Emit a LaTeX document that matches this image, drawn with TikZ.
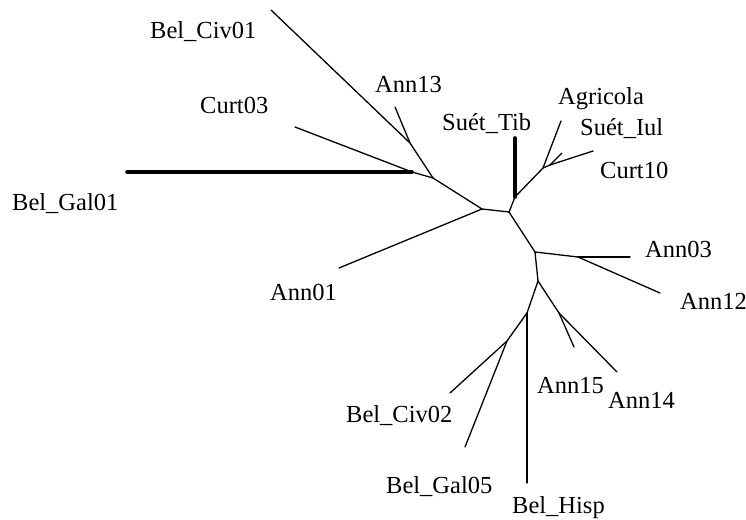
\documentclass[tikz,border=0pt]{standalone}
\usepackage{fontspec}
\setmainfont{Liberation Serif}
\begin{document}
\begin{tikzpicture}[x=1pt,y=-1pt,
  branch/.style={line width=1.3pt,line cap=round,line join=round},
  heavy/.style={line width=3.6pt},
  taxon/.style={anchor=base west,inner sep=0pt,font=\fontsize{24.5}{28}\selectfont}]
\useasboundingbox (0,0) rectangle (746,519);

% internal vertices
\coordinate (A) at (482,209);
\coordinate (B) at (509,212);
\coordinate (C) at (433,178);
\coordinate (D) at (412,172);
\coordinate (E) at (410,143);
\coordinate (F) at (515,197);
\coordinate (G) at (543,168);
\coordinate (G2) at (550,165);
\coordinate (H) at (535,252);
\coordinate (I) at (578,257);
\coordinate (J) at (538,281);
\coordinate (K) at (527,313);
\coordinate (L) at (559,313);
\coordinate (M) at (507,341);

% leaves
\coordinate (tBelCivA) at (271,10);
\coordinate (tAnnXIII) at (395,107);
\coordinate (tCurtIII) at (295,127);
\coordinate (tBelGalA) at (127,172);
\coordinate (tAnnI) at (339,268);
\coordinate (tSuetTib) at (515,138);
\coordinate (tAgricola) at (561,121);
\coordinate (tSuetIul) at (562,153);
\coordinate (tCurtX) at (593,151);
\coordinate (tAnnIII) at (630,257);
\coordinate (tAnnXII) at (660,293);
\coordinate (tAnnXV) at (574,347);
\coordinate (tAnnXIV) at (617,372);
\coordinate (tBelHisp) at (527,483);
\coordinate (tBelCivB) at (450,393);
\coordinate (tBelGalB) at (465,447);

% branches
\draw[branch] (A) -- (B);
\draw[branch] (A) -- (C);
\draw[branch] (A) -- (tAnnI);
\draw[branch] (C) -- (D);
\draw[branch] (C) -- (E);
\draw[branch] (E) -- (tBelCivA);
\draw[branch] (E) -- (tAnnXIII);
\draw[branch] (D) -- (tCurtIII);
\draw[branch,heavy] (D) -- (tBelGalA);
\draw[branch] (B) -- (F);
\draw[branch,heavy] (F) -- (tSuetTib);
\draw[branch] (F) -- (G);
\draw[branch] (G) -- (tAgricola);
\draw[branch] (G) -- (G2);
\draw[branch] (G2) -- (tSuetIul);
\draw[branch] (G2) -- (tCurtX);
\draw[branch] (B) -- (H);
\draw[branch] (H) -- (I);
\draw[branch] (I) -- (tAnnIII);
\draw[branch] (I) -- (tAnnXII);
\draw[branch] (H) -- (J);
\draw[branch] (J) -- (K);
\draw[branch] (J) -- (L);
\draw[branch] (L) -- (tAnnXV);
\draw[branch] (L) -- (tAnnXIV);
\draw[branch] (K) -- (tBelHisp);
\draw[branch] (K) -- (M);
\draw[branch] (M) -- (tBelCivB);
\draw[branch] (M) -- (tBelGalB);

% taxon labels
\node[taxon] (lBelCivA) at (150,39) {Bel\_Civ01};
\node[taxon] (lAnnXIII) at (375,92) {Ann13};
\node[taxon] (lCurtIII) at (200,113) {Curt03};
\node[taxon] (lBelGalA) at (12,210) {Bel\_Gal01};
\node[taxon] (lAnnI) at (270,300) {Ann01};
\node[taxon] (lSuetTib) at (442,130) {Suét\_Tib};
\node[taxon] (lAgricola) at (558,104) {Agricola};
\node[taxon] (lSuetIul) at (580,135) {Suét\_Iul};
\node[taxon] (lCurtX) at (600,178) {Curt10};
\node[taxon] (lAnnIII) at (645,257) {Ann03};
\node[taxon] (lAnnXII) at (680,309) {Ann12};
\node[taxon] (lAnnXV) at (537,393) {Ann15};
\node[taxon] (lAnnXIV) at (608,408) {Ann14};
\node[taxon] (lBelCivB) at (346,422) {Bel\_Civ02};
\node[taxon] (lBelGalB) at (386,493) {Bel\_Gal05};
\node[taxon] (lBelHisp) at (512,513) {Bel\_Hisp};
\end{tikzpicture}
\end{document}
